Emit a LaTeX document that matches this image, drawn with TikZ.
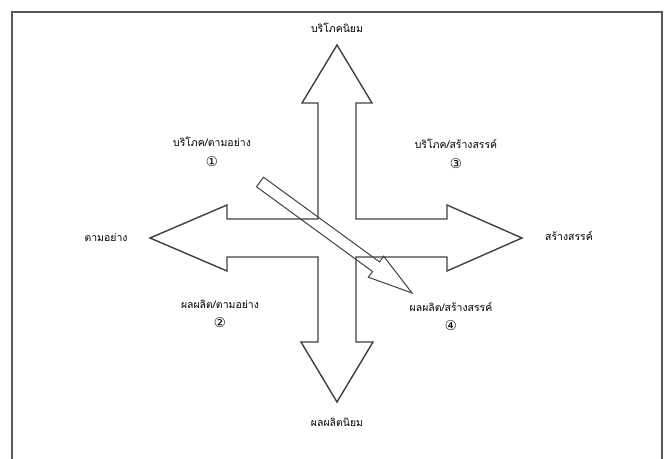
\documentclass[tikz,border=0pt]{standalone}
\usepackage{fontspec}
\setmainfont[Script=Thai]{Loma}
\newfontfamily\circfont{DejaVu Sans}
\usetikzlibrary{positioning}

\tikzset{
    lbl/.style={font=\fontsize{10.5}{12}\selectfont, inner sep=1pt},
    num/.style={font=\circfont\fontsize{13.5}{15}\selectfont, inner sep=0pt},
    outline/.style={line width=1.4bp, draw=black!75, line join=miter},
}

\begin{document}
\begin{tikzpicture}[x=1bp, y=-1bp]
    \useasboundingbox (0,0) rectangle (666,459);
    % Rahmen:
    \draw[line width=2bp, black!65] (12,459) -- (12,12) -- (662,12) -- (662,459);

    % Kreuz aus vier Pfeilen:
    \draw[outline] (337,45) -- (372,103) -- (356,103) -- (356,219)
        -- (447,219) -- (447,205) -- (522,238) -- (447,271) -- (447,257)
        -- (356,257) -- (356,342) -- (373,342) -- (337,402) -- (301,342)
        -- (318,342) -- (318,257) -- (227,257) -- (227,271) -- (150,238)
        -- (227,205) -- (227,219) -- (318,219) -- (318,103) -- (302,103)
        -- cycle;

    % schraeger Pfeil:
    \draw[line width=1bp, black!75] (263.5,177.2) -- (379.5,261.9)
        -- (383.7,256.2) -- (412,293) -- (368.3,277.2) -- (372.5,271.5)
        -- (256.5,186.8) -- cycle;

    % Achsen:
    \node[lbl] (top)    at (337,28)  {บริโภคนิยม};
    \node[lbl] (bottom) at (337,422) {ผลผลิตนิยม};
    \node[lbl] (left)   at (106,237) {ตามอย่าง};
    \node[lbl] (right)  at (569,236) {สร้างสรรค์};

    % Quadranten:
    \node[lbl] (q1) at (212,142) {บริโภค/ตามอย่าง};
    \node[num, below=8bp of q1] (n1) {①};
    \node[lbl] (q3) at (456,144) {บริโภค/สร้างสรรค์};
    \node[num, below=8bp of q3] (n3) {③};
    \node[lbl] (q2) at (220,304) {ผลผลิต/ตามอย่าง};
    \node[num, below=8bp of q2] (n2) {②};
    \node[lbl] (q4) at (451,307) {ผลผลิต/สร้างสรรค์};
    \node[num, below=8bp of q4] (n4) {④};
\end{tikzpicture}
\end{document}
